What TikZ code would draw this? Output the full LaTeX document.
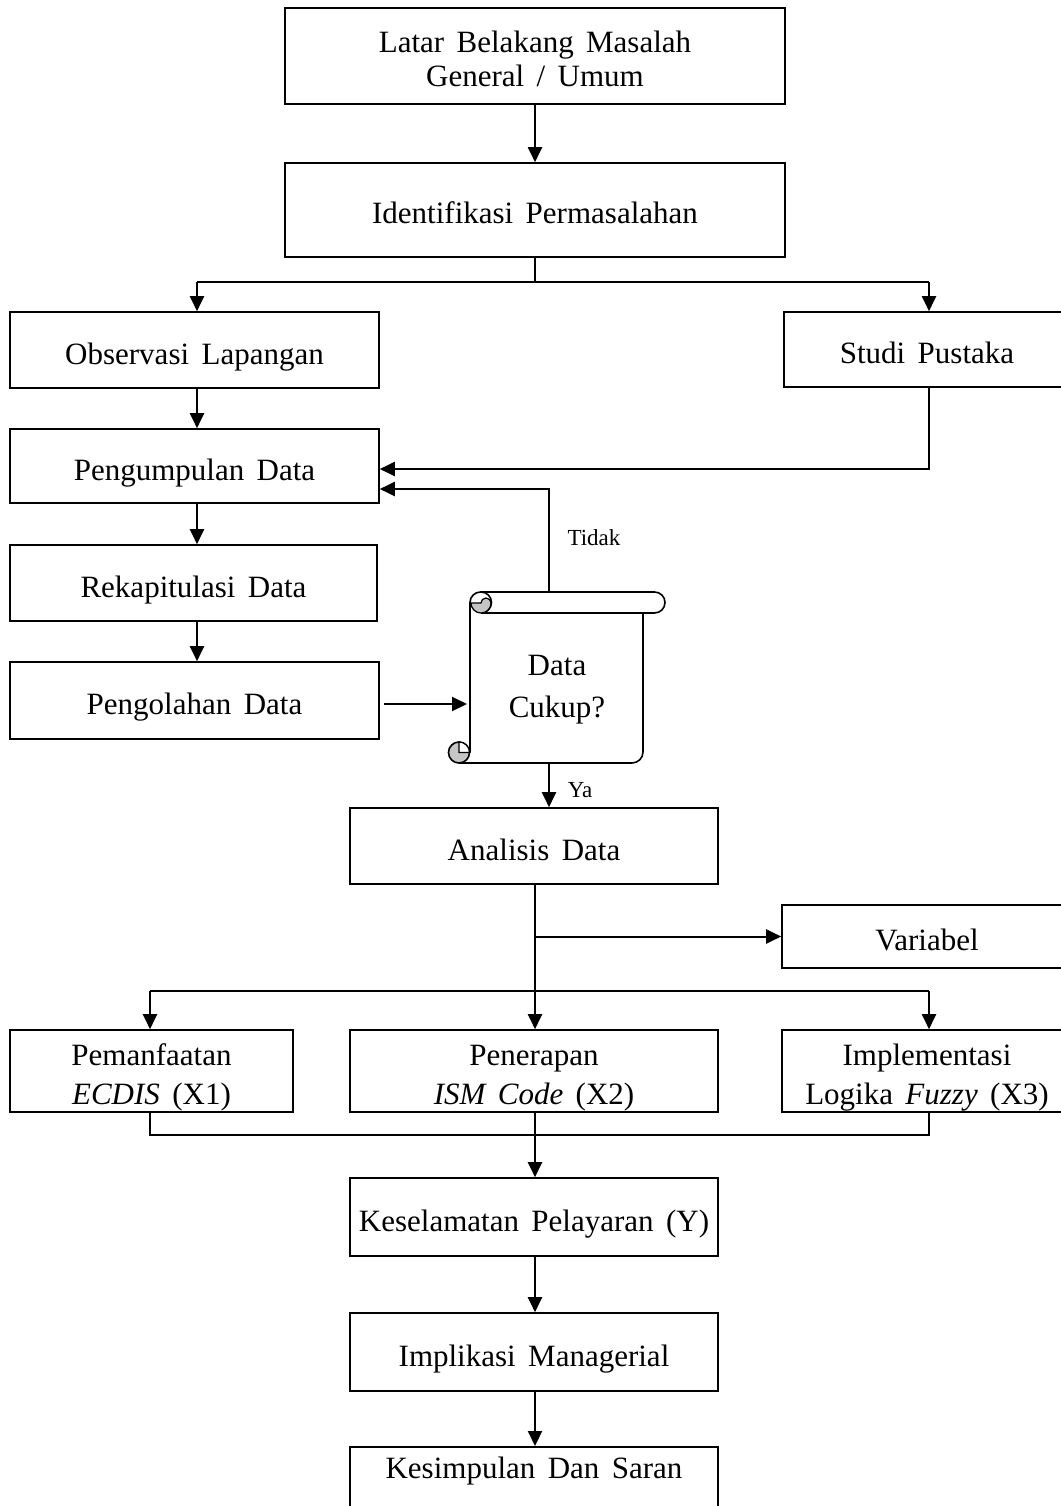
\documentclass[tikz,border=0pt]{standalone}
\usepackage{fontspec}
\setmainfont{Liberation Serif}[WordSpace=1.6]
\usetikzlibrary{arrows.meta}
\begin{document}
\begin{tikzpicture}[x=1pt,y=-1pt,
  box/.style={draw,line width=1.6pt,rectangle,inner sep=0pt,font=\fontsize{31}{34}\selectfont},
  one/.style={text height=28pt,text depth=0pt},
  two/.style={text height=15pt,text depth=26pt},
  arr/.style={line width=2pt,-{Triangle[length=15pt,width=14pt]}},
  ln/.style={line width=1.4pt},
  sc/.style={line width=1.6pt},
  lbl/.style={font=\fontsize{23}{26}\selectfont}]
\useasboundingbox (0,0) rectangle (1060,1506);
\fill[white] (0,0) rectangle (1060,1506);

% boxes
\node[box,minimum width=500,minimum height=96,text height=16pt,text depth=23pt] (lat) at (535,56)
  {\begin{tabular}[t]{@{}c@{}}Latar Belakang Masalah\\General / Umum\end{tabular}};
\node[box,one,minimum width=500,minimum height=94] (idf) at (535,210) {Identifikasi Permasalahan};
\node[box,one,minimum width=369,minimum height=76] (obs) at (194.5,350) {Observasi Lapangan};
\node[box,one,minimum width=286,minimum height=75] (stu) at (927,349.5) {Studi Pustaka};
\node[box,one,minimum width=369,minimum height=74] (pgm) at (194.5,466) {Pengumpulan Data};
\node[box,one,minimum width=367,minimum height=76] (rek) at (193.5,583) {Rekapitulasi Data};
\node[box,one,minimum width=369,minimum height=77] (pgl) at (194.5,700.5) {Pengolahan Data};
\node[box,one,minimum width=368,minimum height=76] (ana) at (534,846) {Analisis Data};
\node[box,one,minimum width=290,minimum height=63] (var) at (927,936.5) {Variabel};
\node[box,two,minimum width=283,minimum height=82] (pem) at (151.5,1071)
  {\begin{tabular}[t]{@{}c@{}}Pemanfaatan\\[5pt]\textit{ECDIS} (X1)\end{tabular}};
\node[box,two,minimum width=368,minimum height=82] (pen) at (534,1071)
  {\begin{tabular}[t]{@{}c@{}}Penerapan\\[5pt]\textit{ISM Code} (X2)\end{tabular}};
\node[box,two,minimum width=290,minimum height=82] (imp) at (927,1071)
  {\begin{tabular}[t]{@{}c@{}}Implementasi\\[5pt]Logika \textit{Fuzzy} (X3)\end{tabular}};
\node[box,one,minimum width=368,minimum height=78] (kes) at (534,1217) {Keselamatan Pelayaran (Y)};
\node[box,one,minimum width=368,minimum height=78] (iml) at (534,1352) {Implikasi Managerial};
\node[box,minimum width=368,minimum height=70,anchor=north] (ksm) at (534,1446) {};
\node[font=\fontsize{31}{34}\selectfont,anchor=base] (ksmt) at (534,1478.5) {Kesimpulan Dan Saran};

% scroll shape (Data Cukup?)
\draw[sc] (470,752.5) -- (470,602.5) arc[start angle=180,end angle=270,radius=10.5]
  -- (654.5,592) arc[start angle=-90,end angle=90,radius=10.5] -- (481,613);
\draw[sc] (481,592) arc[start angle=-90,end angle=90,radius=10.5];
\filldraw[sc,fill=gray!45,line width=1.2pt] (471,603) arc[start angle=180,end angle=0,radius=10]
  arc[start angle=0,end angle=-180,radius=5] -- cycle;
\draw[sc] (643,613) -- (643,752) arc[start angle=0,end angle=90,radius=11] -- (459,763);
\filldraw[sc,fill=gray!45] (459,752.5) circle[radius=10.5];
\filldraw[fill=white,line width=1.2pt] (459,752.5) -- (469.5,752.5) arc[start angle=0,end angle=-90,radius=10.5] -- cycle;
\node[anchor=base,inner sep=0pt,font=\fontsize{31}{34}\selectfont] (chk) at (557,675.5)
  {\begin{tabular}[t]{@{}c@{}}Data\\[8pt]Cukup?\end{tabular}};
\coordinate (chkT) at (549,592);
\coordinate (chkB) at (549,763);
\coordinate (chkL) at (467,704);

% connectors
\draw[arr] (lat) -- (idf);
\coordinate (bl) at (197,282);
\coordinate (br) at (929,282);
\draw[ln] (idf.south) -- (idf.south |- bl);
\draw[ln] (bl) -- (br);
\draw[arr] (bl) -- (bl |- obs.north);
\draw[arr] (br) -- (br |- stu.north);
\draw[arr] (bl |- obs.south) -- (bl |- pgm.north);
\draw[arr] (br |- stu.south) |- ([yshift=-3pt]pgm.east);
\draw[arr] (chkT) |- ([yshift=-23pt]pgm.east);
\node[lbl] (tdk) at (594,538) {Tidak};
\draw[arr] (bl |- pgm.south) -- (bl |- rek.north);
\draw[arr] (bl |- rek.south) -- (bl |- pgl.north);
\draw[arr] ([xshift=4pt,yshift=-3.5pt]pgl.east) -- (chkL);
\draw[arr] (chkB) -- (chkB |- ana.north);
\node[lbl] (ya) at (580,790) {Ya};

\coordinate (l1) at (150,991);
\coordinate (r1) at (929,991);
\draw[arr] ([xshift=1pt]ana.south) -- ([xshift=1pt]pen.north);
\draw[arr] ([xshift=1pt]ana.south |- var.west) -- (var.west);
\draw[ln] (l1) -- (r1);
\draw[arr] (l1) -- (l1 |- pem.north);
\draw[arr] (r1) -- (r1 |- imp.north);
\coordinate (l2) at (150,1135);
\coordinate (r2) at (929,1135);
\draw[ln] (l1 |- pem.south) -- (l2) -- (r2) -- (r1 |- imp.south);
\draw[arr] ([xshift=1pt]pen.south) -- ([xshift=1pt]kes.north);
\draw[arr] ([xshift=1pt]kes.south) -- ([xshift=1pt]iml.north);
\draw[arr] ([xshift=1pt]iml.south) -- ([xshift=1pt]ksm.north);
\end{tikzpicture}
\end{document}
